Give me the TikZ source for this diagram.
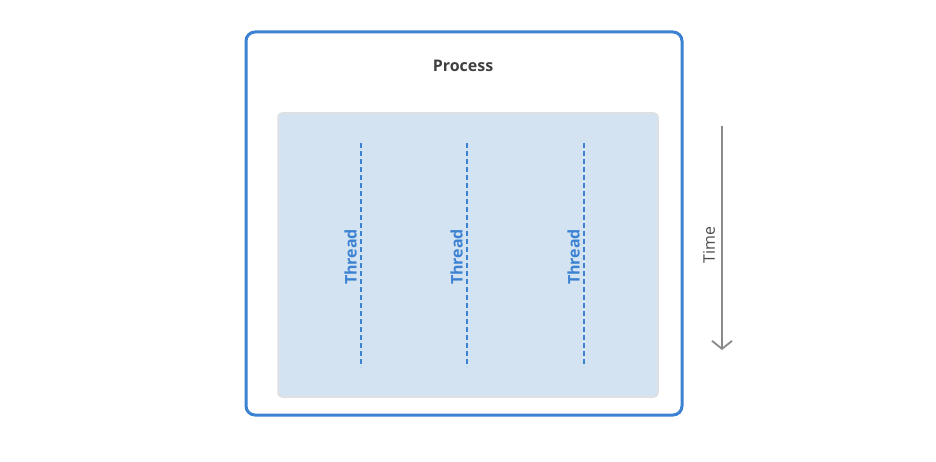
\documentclass[tikz,border=0pt]{standalone}
\usepackage{fontspec}
\setmainfont{Open Sans}
\usetikzlibrary{arrows.meta}
\definecolor{procblue}{HTML}{3C82D2}
\definecolor{threadfill}{HTML}{D3E3F2}
\definecolor{threadtext}{HTML}{3C82D2}
\definecolor{timegray}{HTML}{8A8A8A}
\tikzset{
  threadline/.style={draw=procblue, line width=1.6pt, dash pattern=on 5pt off 3pt},
  threadlabel/.style={text=threadtext, font=\fontsize{16}{18}\selectfont\bfseries, rotate=90, anchor=south}
}
\begin{document}
\begin{tikzpicture}[x=1pt,y=-1pt]
    \useasboundingbox (0,0) rectangle (936,462);
    % the process and its threads area
    \draw[procblue, line width=3pt, rounded corners=9pt] (246,32) rectangle (682,415);
    \filldraw[fill=threadfill, draw=black!12, line width=1.5pt, rounded corners=4pt] (278,113) rectangle (658,397);

    % the texts
    \node[text=black!75, font=\fontsize{16}{18}\selectfont\bfseries] (proc) at (463,66) {Process};

    % the threads
    \foreach \name/\x in {ta/361, tb/467, tc/584} {
        \coordinate (\name top) at (\x,143);
        \coordinate (\name bot) at (\x,367);
        \draw[threadline] (\name top) -- (\name bot);
        \node[threadlabel, inner sep=2pt] (\name) at (\x-2,257) {Thread};
    }

    % the time arrow
    \coordinate (ttop) at (722,126);
    \coordinate (tbot) at (722,350);
    \draw[timegray, line width=1.8pt, -{Straight Barb[length=8pt,width=20pt]}] (ttop) -- (tbot);
    \node[text=black!70, font=\fontsize{16}{18}\selectfont, rotate=90] (time) at (709,245) {Time};
\end{tikzpicture}
\end{document}
